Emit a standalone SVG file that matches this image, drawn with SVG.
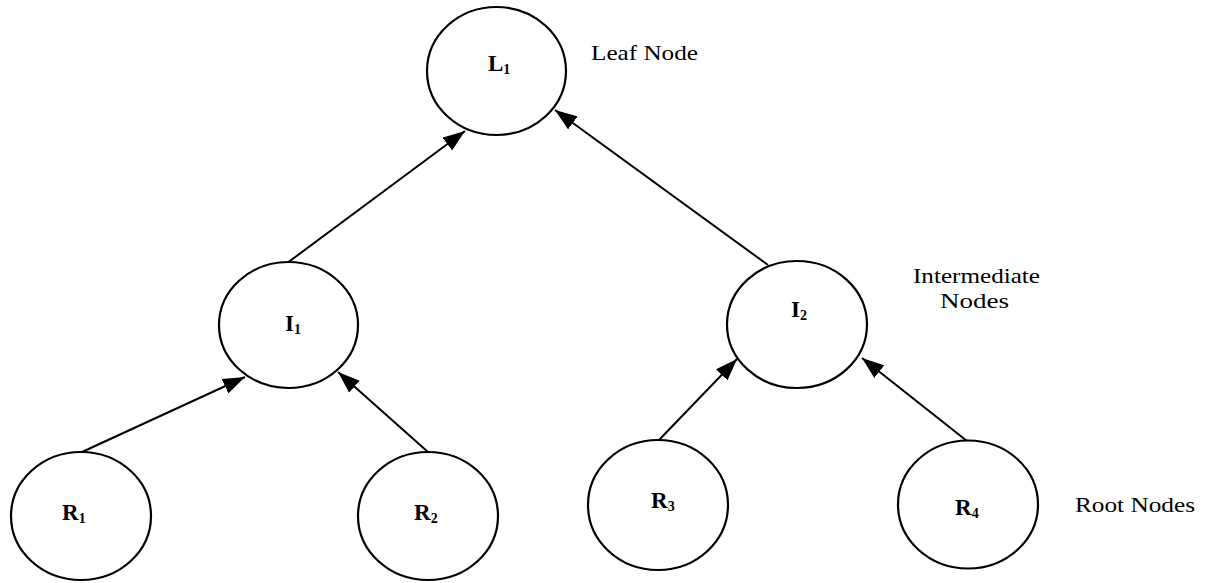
<svg xmlns="http://www.w3.org/2000/svg" width="1211" height="583" viewBox="0 0 1211 583">
  <style>
    .node { fill: #ffffff; stroke: #000000; stroke-width: 2.2; }
    .edge { fill: none; stroke: #000000; stroke-width: 2; marker-end: url(#arrow); }
    .lbl { font-family: "Liberation Serif", "Times New Roman", serif; font-weight: bold; font-size: 23px; fill: #000000; }
    .sub { font-size: 14px; }
    .note { font-family: "Liberation Serif", "Times New Roman", serif; font-size: 22px; fill: #000000; }
  </style>
  <defs>
    <marker id="arrow" markerUnits="userSpaceOnUse" markerWidth="22" markerHeight="16" refX="22" refY="8" orient="auto">
      <path d="M0,0 L22,8 L0,16 z" fill="#000000"/>
    </marker>
  </defs>
  <rect width="1211" height="583" fill="#ffffff"/>

  <!-- connectors: each child points up to its parent -->
  <g id="connectors">
    <line class="edge" x1="288.5" y1="262" x2="465" y2="131"/>
    <line class="edge" x1="768" y1="265" x2="555" y2="110"/>
    <line class="edge" x1="82" y1="452" x2="245" y2="377"/>
    <line class="edge" x1="428" y1="452" x2="338" y2="372"/>
    <line class="edge" x1="659" y1="440" x2="737" y2="359"/>
    <line class="edge" x1="967" y1="441" x2="862" y2="358"/>
  </g>

  <g id="node-L1">
    <ellipse class="node" cx="496.5" cy="71" rx="69.5" ry="64"/>
    <text class="lbl" x="488" y="71">L<tspan class="sub" dy="3">1</tspan></text>
  </g>
  <g id="node-I1">
    <ellipse class="node" cx="288.5" cy="325" rx="69.5" ry="63"/>
    <text class="lbl" x="285" y="331">I<tspan class="sub" dy="3">1</tspan></text>
  </g>
  <g id="node-I2">
    <ellipse class="node" cx="797" cy="324.5" rx="70" ry="63.5"/>
    <text class="lbl" x="791" y="317">I<tspan class="sub" dy="3">2</tspan></text>
  </g>
  <g id="node-R1">
    <ellipse class="node" cx="81" cy="516" rx="70" ry="64"/>
    <text class="lbl" x="62" y="520">R<tspan class="sub" dy="3">1</tspan></text>
  </g>
  <g id="node-R2">
    <ellipse class="node" cx="428" cy="516" rx="70" ry="64"/>
    <text class="lbl" x="414" y="520">R<tspan class="sub" dy="3">2</tspan></text>
  </g>
  <g id="node-R3">
    <ellipse class="node" cx="658" cy="505" rx="70" ry="65"/>
    <text class="lbl" x="651" y="508">R<tspan class="sub" dy="3">3</tspan></text>
  </g>
  <g id="node-R4">
    <ellipse class="node" cx="968" cy="504.5" rx="70" ry="64"/>
    <text class="lbl" x="955" y="515">R<tspan class="sub" dy="3">4</tspan></text>
  </g>

  <g id="level-notes">
    <text class="note" x="591" y="60" textLength="107" lengthAdjust="spacingAndGlyphs">Leaf Node</text>
    <text class="note" x="913" y="283" textLength="127" lengthAdjust="spacingAndGlyphs">Intermediate</text>
    <text class="note" x="940" y="308" textLength="69" lengthAdjust="spacingAndGlyphs">Nodes</text>
    <text class="note" x="1075" y="512" textLength="120" lengthAdjust="spacingAndGlyphs">Root Nodes</text>
  </g>
</svg>
